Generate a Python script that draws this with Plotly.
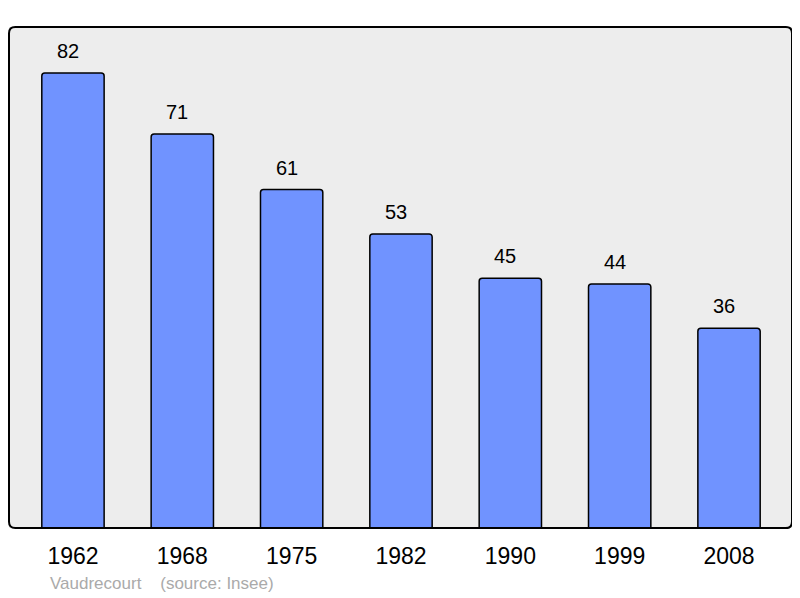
import plotly.graph_objects as go

# population figures
years = ["1962", "1968", "1975", "1982", "1990", "1999", "2008"]
population = [82, 71, 61, 53, 45, 44, 36]

commune = "Vaudrecourt"
source = "(source: Insee)"

fig = go.Figure()

fig.add_trace(
    go.Bar(
        x=years,
        y=population,
        width=0.57,
        marker=dict(color="#7093FF", line=dict(color="black", width=1.5), cornerradius=3),
        hoverinfo="x+y",
        showlegend=False,
    )
)

# value labels above each bar (x as category index)
for i, val in enumerate(population):
    fig.add_annotation(
        x=i, y=val, text=str(val), showarrow=False,
        yanchor="middle", yshift=22, xshift=-5,
        font=dict(size=20, color="black"),
    )

# rounded frame around the plot area
r = 0.008
ry = r * 783 / 501
frame = (f"M {r},0 L {1 - r},0 Q 1,0 1,{ry} L 1,{1 - ry} Q 1,1 {1 - r},1 "
         f"L {r},1 Q 0,1 0,{1 - ry} L 0,{ry} Q 0,0 {r},0 Z")
fig.add_shape(type="path", xref="paper", yref="paper", path=frame,
              line=dict(color="black", width=2), layer="above")

fig.add_annotation(
    text=f"{commune}&nbsp;&nbsp;&nbsp;&nbsp;{source}",
    xref="paper", yref="paper", x=0.05, y=-0.11,
    xanchor="left", yanchor="middle", showarrow=False,
    font=dict(size=17, color="#AAAAAA"),
)

# page has an 8px body margin, so the figure is sized to sit inside it
fig.update_layout(
    width=784, height=590,
    margin=dict(l=1, r=0, t=19, b=70),
    paper_bgcolor="white",
    plot_bgcolor="#EDEDED",
    font=dict(family="Liberation Sans, Arial, sans-serif"),
    xaxis=dict(
        type="category",
        range=[-0.585, 6.576], showgrid=False, zeroline=False,
        ticks="outside", ticklen=7, tickcolor="rgba(0,0,0,0)",
        tickfont=dict(size=23, color="black"),
    ),
    yaxis=dict(range=[0, 90.3], visible=False, showgrid=False),
)

fig.write_html("out.html")
